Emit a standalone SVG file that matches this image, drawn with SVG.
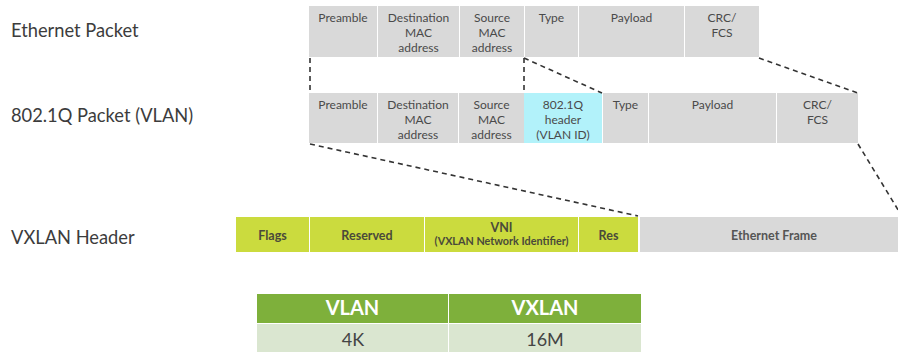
<svg xmlns="http://www.w3.org/2000/svg" width="898" height="352" viewBox="0 0 898 352">
<style>
.lbl{font-family:Lato,"Liberation Sans",sans-serif;font-size:18.3px;fill:#3c3c3c}
.c{font-family:Lato,"Liberation Sans",sans-serif;font-size:12px;fill:#4a4a4a;text-anchor:middle}
.b{font-family:Lato,"Liberation Sans",sans-serif;font-size:12.5px;font-weight:bold;fill:#4a4a3a;text-anchor:middle}
.bs{font-size:10.8px}
.g{fill:#d9d9d9}
.cy{fill:#b2f2fa}
.y{fill:#cbdb3e}
.th{font-family:Lato,"Liberation Sans",sans-serif;font-size:20px;font-weight:bold;fill:#ffffff;text-anchor:middle}
.td{font-family:Lato,"Liberation Sans",sans-serif;font-size:18px;fill:#444;text-anchor:middle}
.d{stroke:#333;stroke-width:1.6;stroke-dasharray:5 4;fill:none}
</style>
<text class="lbl" x="11" y="37">Ethernet Packet</text>
<text class="lbl" x="11" y="122">802.1Q Packet (VLAN)</text>
<text class="lbl" x="11" y="244">VXLAN Header</text>

<g id="eth">
<rect class="g" x="309" y="6" width="68" height="51"/>
<rect class="g" x="378" y="6" width="81" height="51"/>
<rect class="g" x="460" y="6" width="64" height="51"/>
<rect class="g" x="525" y="6" width="53" height="51"/>
<rect class="g" x="579" y="6" width="105" height="51"/>
<rect class="g" x="685" y="6" width="74" height="51"/>
<text class="c" x="343" y="22">Preamble</text>
<text class="c" x="418.5" y="22">Destination</text>
<text class="c" x="418.5" y="37">MAC</text>
<text class="c" x="418.5" y="52">address</text>
<text class="c" x="492" y="22">Source</text>
<text class="c" x="492" y="37">MAC</text>
<text class="c" x="492" y="52">address</text>
<text class="c" x="551.5" y="22">Type</text>
<text class="c" x="631.5" y="22">Payload</text>
<text class="c" x="722" y="22">CRC/</text>
<text class="c" x="722" y="37">FCS</text>
</g>

<g id="vlan">
<rect class="g" x="309" y="93" width="68" height="50"/>
<rect class="g" x="378" y="93" width="80" height="50"/>
<rect class="g" x="459" y="93" width="65" height="50"/>
<rect class="cy" x="524" y="93" width="78" height="50"/>
<rect class="g" x="603" y="93" width="45" height="50"/>
<rect class="g" x="649" y="93" width="127" height="50"/>
<rect class="g" x="777" y="93" width="81" height="50"/>
<text class="c" x="343" y="109">Preamble</text>
<text class="c" x="418" y="109">Destination</text>
<text class="c" x="418" y="124">MAC</text>
<text class="c" x="418" y="139">address</text>
<text class="c" x="491.5" y="109">Source</text>
<text class="c" x="491.5" y="124">MAC</text>
<text class="c" x="491.5" y="139">address</text>
<text class="c" x="563" y="109">802.1Q</text>
<text class="c" x="563" y="124">header</text>
<text class="c" x="563" y="139">(VLAN ID)</text>
<text class="c" x="625.5" y="109">Type</text>
<text class="c" x="712.5" y="109">Payload</text>
<text class="c" x="817.5" y="109">CRC/</text>
<text class="c" x="817.5" y="124">FCS</text>
</g>

<g id="vxlan">
<rect class="y" x="236" y="217" width="73" height="35"/>
<rect class="y" x="310" y="217" width="114" height="35"/>
<rect class="y" x="425" y="217" width="153" height="35"/>
<rect class="y" x="579" y="217" width="59" height="35"/>
<rect class="g" x="640" y="217" width="258" height="35"/>
<text class="b" x="272.5" y="240">Flags</text>
<text class="b" x="367" y="240">Reserved</text>
<text class="b" x="501.5" y="232">VNI</text>
<text class="b bs" x="501.5" y="245">(VXLAN Network Identifier)</text>
<text class="b" x="608.5" y="240">Res</text>
<text class="b" x="774" y="240" style="fill:#555">Ethernet Frame</text>
</g>

<g id="table">
<rect x="257" y="294" width="191" height="29" fill="#7eb03b"/>
<rect x="449" y="294" width="192" height="29" fill="#7eb03b"/>
<rect x="257" y="324" width="191" height="28" fill="#dae6d0"/>
<rect x="449" y="324" width="192" height="28" fill="#dae6d0"/>
<text class="th" x="352.5" y="315">VLAN</text>
<text class="th" x="545" y="315">VXLAN</text>
<text class="td" x="353" y="346">4K</text>
<text class="td" x="545" y="346">16M</text>
</g>

<g id="connectors">
<line class="d" x1="310" y1="58" x2="310" y2="92"/>
<line class="d" x1="524" y1="58" x2="524" y2="92"/>
<line class="d" x1="524" y1="58" x2="602" y2="93"/>
<line class="d" x1="759" y1="58" x2="858" y2="93"/>
<line class="d" x1="310" y1="144" x2="638" y2="216"/>
<line class="d" x1="858" y1="144" x2="900" y2="213"/>
</g>
</svg>
